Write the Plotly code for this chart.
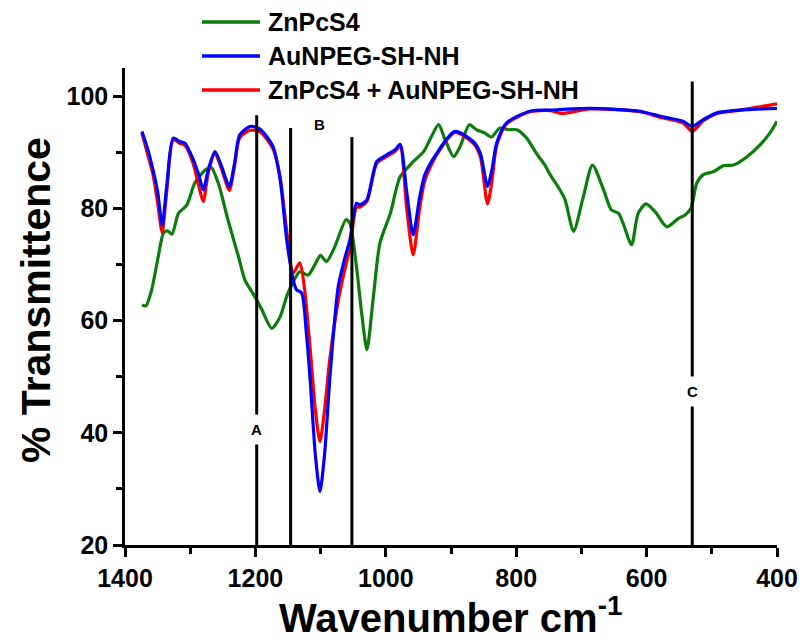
import plotly.graph_objects as go

# ---------------- data ----------------
wn_green = [1374, 1368, 1359, 1349, 1341, 1335, 1328, 1318, 1305, 1293, 1277, 1268, 1257, 1242,
            1226, 1216, 1201, 1190, 1175, 1162, 1152, 1142, 1132, 1119, 1109, 1100, 1091, 1078,
            1061, 1055, 1045, 1037, 1029, 1019, 1009, 993, 978, 958, 942, 930, 919, 909, 896,
            886, 872, 861, 848, 838, 825, 812, 799, 784, 769, 756, 748, 733, 725, 712, 697, 683,
            666, 654, 643, 636, 623, 613, 601, 587, 569, 551, 541, 532, 523, 513, 498, 482, 467,
            446, 426, 411, 400]
t_green = [62.8, 62.6, 65.5, 71.4, 75.6, 76.0, 75.4, 79.1, 80.6, 84.5, 86.8, 87.3, 84.5, 77.9,
           71.4, 67.2, 64.3, 61.9, 58.6, 60.7, 64.3, 66.9, 68.7, 68.1, 69.9, 71.6, 70.5, 73.2,
           78.0, 77.3, 69.6, 61.3, 54.8, 64.3, 73.8, 79.1, 85.6, 88.3, 90.1, 92.8, 94.9, 92.2,
           89.2, 91.0, 94.9, 94.0, 93.4, 92.7, 94.3, 94.0, 94.0, 92.5, 89.8, 87.7, 86.0, 83.3,
           81.5, 75.9, 82.1, 87.7, 83.3, 79.7, 79.1, 77.3, 73.5, 79.1, 80.8, 79.4, 76.7, 78.2,
           78.8, 80.0, 84.5, 86.0, 86.5, 87.6, 87.7, 89.2, 91.3, 93.4, 95.5]

wn_blue = [1374, 1365, 1357, 1350, 1343, 1336, 1326, 1316, 1308, 1295, 1287, 1280, 1272, 1262,
           1252, 1240, 1232, 1224, 1208, 1193, 1173, 1162, 1152, 1142, 1137, 1129, 1122, 1116,
           1108, 1101, 1094, 1086, 1073, 1062, 1055, 1045, 1040, 1029, 1014, 999, 985, 978, 968,
           958, 948, 940, 922, 894, 866, 855, 844, 837, 830, 815, 779, 748, 687, 610, 579, 544,
           530, 513, 492, 457, 400]
t_blue = [93.7, 90.5, 86.8, 83.0, 77.0, 84.0, 92.5, 91.9, 91.6, 88.6, 86.0, 83.3, 87.0, 90.1,
          87.5, 83.9, 88.0, 93.1, 94.6, 94.1, 91.0, 85.1, 74.4, 67.2, 65.5, 64.9, 58.0, 49.4,
          36.0, 29.5, 36.0, 49.4, 66.0, 71.5, 74.4, 80.9, 80.6, 81.5, 88.3, 89.5, 90.5, 91.4,
          83.0, 75.3, 82.0, 86.0, 89.8, 93.7, 91.9, 89.8, 83.9, 87.0, 91.6, 95.2, 97.3, 97.5,
          97.8, 97.3, 96.4, 95.5, 94.6, 95.8, 97.0, 97.5, 97.8]

wn_red = [1374, 1365, 1357, 1350, 1343, 1336, 1326, 1316, 1308, 1295, 1287, 1280, 1272, 1262,
          1252, 1240, 1232, 1224, 1208, 1193, 1173, 1162, 1152, 1142, 1132, 1125, 1116, 1108,
          1101, 1094, 1086, 1073, 1062, 1055, 1045, 1040, 1029, 1014, 999, 985, 978, 968, 958,
          948, 940, 922, 894, 866, 855, 844, 837, 830, 815, 779, 748, 730, 687, 610, 579, 544,
          530, 513, 492, 457, 400]
t_red = [93.4, 89.5, 86.0, 81.0, 75.7, 83.0, 92.2, 91.6, 91.2, 87.8, 84.0, 81.2, 86.5, 89.8,
         87.0, 83.2, 87.5, 92.6, 93.9, 93.6, 90.6, 85.5, 76.0, 68.5, 70.3, 66.0, 55.0, 44.0,
         38.4, 44.0, 53.0, 63.5, 69.5, 72.8, 80.2, 80.2, 81.2, 88.0, 89.2, 90.2, 91.1, 80.0,
         71.7, 80.0, 85.0, 89.5, 93.5, 91.6, 89.2, 80.8, 85.0, 91.2, 95.0, 97.2, 97.4, 96.9,
         97.7, 97.2, 96.2, 95.2, 93.7, 95.6, 96.9, 97.5, 98.6]

series_names = ["ZnPcS4", "AuNPEG-SH-NH", "ZnPcS4 + AuNPEG-SH-NH"]
series_colors = ["#0a7d0a", "#0000ff", "#ff0000"]

# band marker lines (wavenumber, top value) and labels
band_wn = [1198, 1146, 1052, 530]
band_top = [96.6, 94.3, 92.7, 102.6]
band_labels = ["A", "B", "C"]
band_label_wn = [1198, 1101, 530]
band_label_t = [40.6, 95.0, 47.3]

x_ticks = [1400, 1200, 1000, 800, 600, 400]
y_ticks = [20, 40, 60, 80, 100]

# ---------------- figure ----------------
W, H = 801, 643
L, R, T, B = 125, 24, 68, 98
pw, ph = W - L - R, H - T - B

def px_x(px):
    return (px - L) / pw

def px_y(py):
    return (H - B - py) / ph

FONT = "Liberation Sans, Arial, sans-serif"

fig = go.Figure()
order = [(wn_green, t_green, 0), (wn_red, t_red, 2), (wn_blue, t_blue, 1)]
for xs, ys, i in order:
    fig.add_trace(go.Scatter(x=xs, y=ys, mode="lines", name=series_names[i],
                             line=dict(color=series_colors[i], width=3.2, shape="spline", smoothing=0.7),
                             showlegend=False))

shapes = []
for wn, top in zip(band_wn, band_top):
    shapes.append(dict(type="line", xref="x", yref="y", x0=wn, x1=wn, y0=20, y1=top,
                       line=dict(color="black", width=3), layer="above"))

annotations = []
for lab, wn, t in zip(band_labels, band_label_wn, band_label_t):
    annotations.append(dict(x=wn, y=t, xref="x", yref="y", text="<b>%s</b>" % lab,
                            showarrow=False, font=dict(family=FONT, size=15, color="black"),
                            bgcolor="white", borderpad=6))

# manual legend
leg_rows = [22, 56, 90]
for i, py in enumerate(leg_rows):
    shapes.append(dict(type="line", xref="paper", yref="paper", x0=px_x(202), x1=px_x(260),
                       y0=px_y(py), y1=px_y(py), line=dict(color=series_colors[i], width=3.5)))
    annotations.append(dict(x=px_x(266), y=px_y(py), xref="paper", yref="paper",
                            xanchor="left", yanchor="middle", showarrow=False,
                            text="<b>%s</b>" % series_names[i],
                            font=dict(family=FONT, size=25, color="black")))

# axis titles
annotations.append(dict(x=px_x(451), y=px_y(615), xref="paper", yref="paper", showarrow=False,
                        xanchor="center", yanchor="middle",
                        text="<b>Wavenumber cm<sup>-1</sup></b>",
                        font=dict(family=FONT, size=40, color="black")))
annotations.append(dict(x=px_x(36), y=px_y(300), xref="paper", yref="paper", showarrow=False,
                        xanchor="center", yanchor="middle", textangle=-90,
                        text="<b>% Transmittence</b>",
                        font=dict(family=FONT, size=41, color="black")))

fig.update_layout(
    width=W, height=H,
    margin=dict(l=L, r=R, t=T, b=B),
    paper_bgcolor="white", plot_bgcolor="white",
    shapes=shapes, annotations=annotations,
    showlegend=False,
    xaxis=dict(range=[1400, 400], tickvals=x_ticks, ticktext=["<b>%d</b>" % v for v in x_ticks],
               automargin=False,
               showgrid=False, zeroline=False, showline=True, linecolor="black", linewidth=2.5,
               ticks="outside", ticklen=9, tickwidth=2.5, tickcolor="black",
               tickfont=dict(family=FONT, size=25, color="black"),
               minor=dict(tickvals=[1300, 1100, 900, 700, 500], ticks="outside", ticklen=6,
                          tickwidth=2.5, tickcolor="black", showgrid=False)),
    yaxis=dict(range=[20, 105], tickvals=y_ticks, ticktext=["<b>%d</b>" % v for v in y_ticks],
               automargin=False,
               showgrid=False, zeroline=False, showline=True, linecolor="black", linewidth=2.5,
               ticks="outside", ticklen=9, tickwidth=2.5, tickcolor="black",
               tickfont=dict(family=FONT, size=25, color="black"),
               minor=dict(tickvals=[30, 50, 70, 90], ticks="outside", ticklen=6,
                          tickwidth=2.5, tickcolor="black", showgrid=False)),
)

fig.write_html("out.html")
